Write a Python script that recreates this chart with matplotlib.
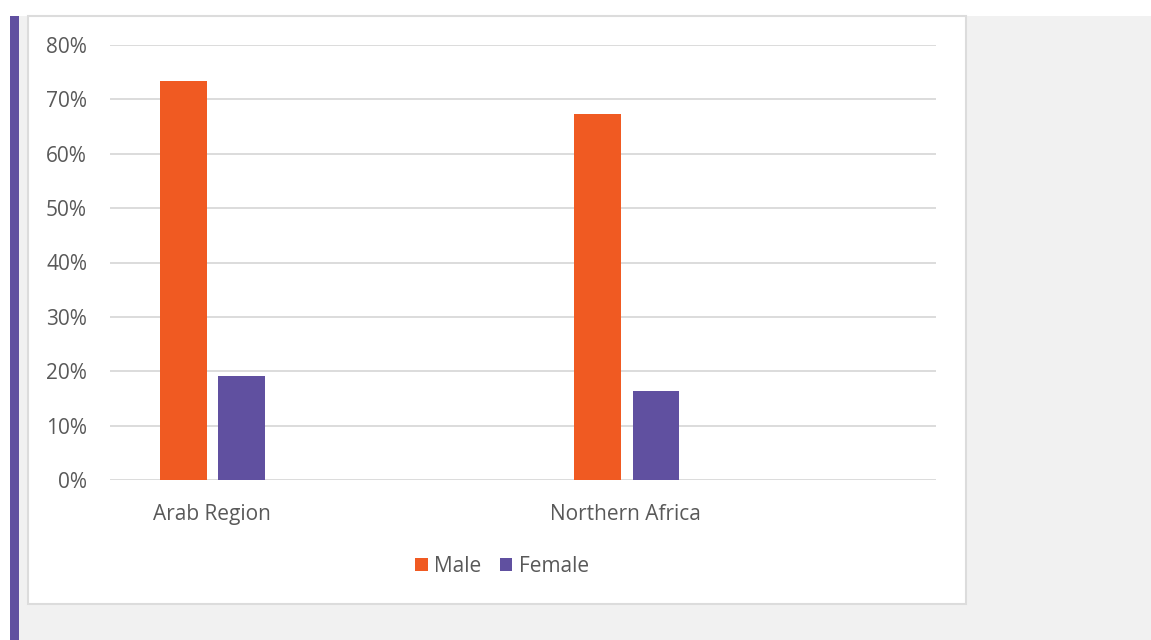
import matplotlib.pyplot as plt
from matplotlib.patches import Rectangle
from matplotlib.ticker import PercentFormatter
import numpy as np

regions = ["Arab Region", "Northern Africa"]
male = [73.4, 67.3]
female = [19.1, 16.4]
y_ticks = [0, 10, 20, 30, 40, 50, 60, 70, 80]

W, H = 1151, 640
ORANGE = "#F05A22"
PURPLE = "#6050A0"
TEXT = "#595959"

plt.rcParams['font.family'] = ['Open Sans', 'DejaVu Sans']

fig = plt.figure(figsize=(W / 100, H / 100), dpi=100)
fig.patch.set_facecolor("white")


def px_rect(x0, y0, x1, y1, **kw):
    # rectangle in pixel coords (origin top-left)
    fig.patches.append(Rectangle((x0 / W, 1 - y1 / H), (x1 - x0) / W, (y1 - y0) / H,
                                 transform=fig.transFigure, figure=fig, zorder=-10, **kw))


# page background and card
px_rect(19, 16, W, H, facecolor="#F1F1F1", edgecolor="none")
px_rect(10, 16, 19, H, facecolor="#6050A0", edgecolor="none")
px_rect(28, 16, 966, 604, facecolor="white", edgecolor="#DCDCDC", linewidth=1.5)

ax = fig.add_axes([110 / W, 1 - 480 / H, (936 - 110) / W, (480 - 45) / H])
ax.set_facecolor("none")
ax.set_zorder(5)

x = np.arange(len(regions))
bw = 0.113
ax.bar(x - 0.069, male, bw, color=ORANGE, label="Male", zorder=3)
ax.bar(x + 0.0725, female, bw, color=PURPLE, label="Female", zorder=3)

ax.set_xlim(-0.246, 1.749)
ax.set_ylim(0, 80)
ax.set_yticks(y_ticks)
ax.yaxis.set_major_formatter(PercentFormatter(decimals=0))
ax.set_xticks(x)
ax.set_xticklabels(regions)
ax.grid(axis="y", color="#D9D9D9", linewidth=1.3, zorder=0)
ax.set_axisbelow(True)
for s in ax.spines.values():
    s.set_visible(False)
ax.tick_params(axis="both", length=0, labelsize=15, colors=TEXT)
ax.tick_params(axis="y", pad=16.5)
ax.tick_params(axis="x", pad=17)

ax.legend(loc="center", bbox_to_anchor=(502 / W, 1 - 566 / H), bbox_transform=fig.transFigure,
          ncol=2, frameon=False, fontsize=15, labelcolor=TEXT,
          handlelength=0.6, handleheight=0.6, handletextpad=0.3, columnspacing=0.9)

fig.savefig("out.png", dpi=100)
